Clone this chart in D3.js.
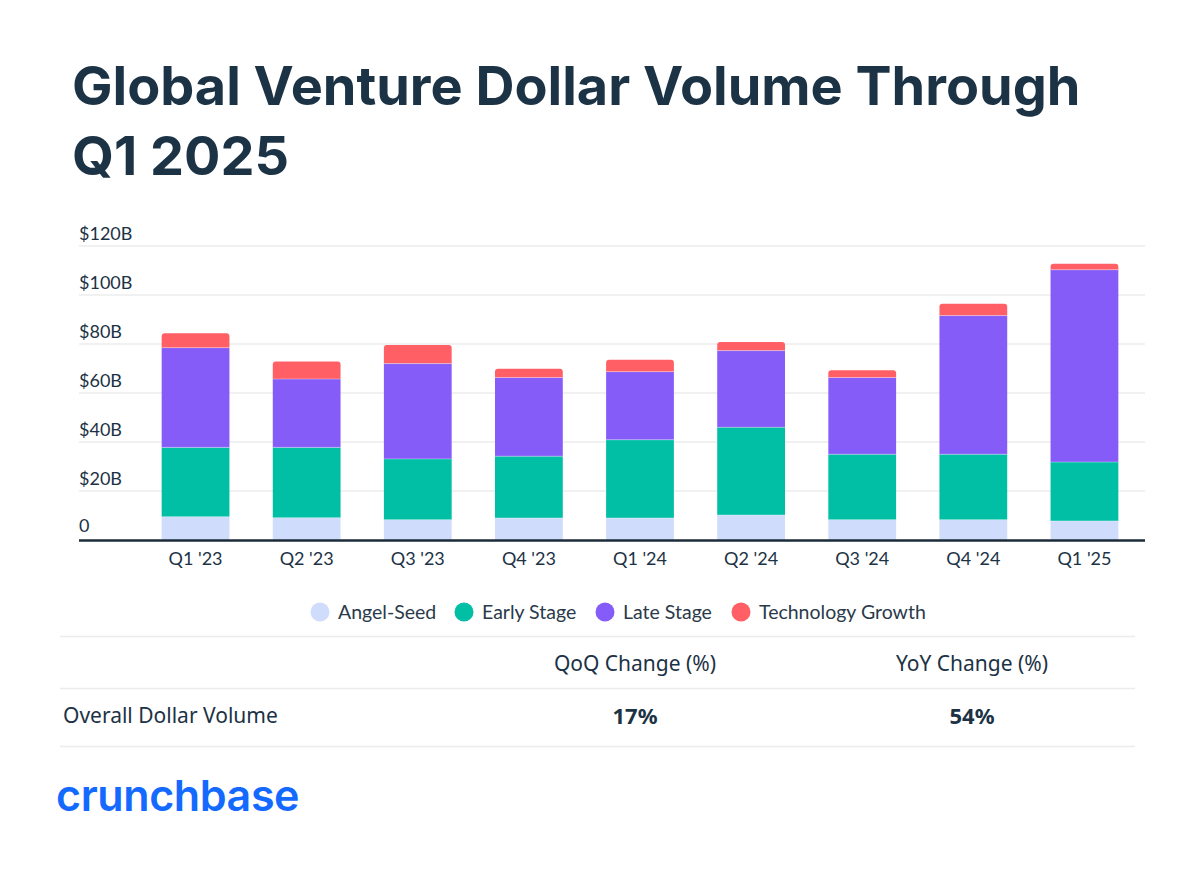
<!DOCTYPE html>
<html>
<head>
<meta charset="utf-8">
<script src="https://cdn.jsdelivr.net/npm/d3@7"></script>
<style>
  body { margin: 0; background: #fff; }
  svg { display: block; font-family: "Lato", "Noto Sans", sans-serif; }
</style>
</head>
<body>
<svg id="chart" width="1200" height="880"></svg>
<script>
const quarters = ["Q1 '23", "Q2 '23", "Q3 '23", "Q4 '23", "Q1 '24", "Q2 '24", "Q3 '24", "Q4 '24", "Q1 '25"];
const angelSeed = [9.5, 9.1, 8.3, 9.0, 9.0, 10.2, 8.3, 8.3, 7.8];
const earlyStage = [28.3, 28.7, 24.8, 25.2, 31.9, 35.8, 26.7, 26.7, 24.0];
const lateStage = [40.7, 27.9, 38.9, 32.1, 27.8, 31.3, 31.3, 56.6, 78.5];
const techGrowth = [5.9, 7.2, 7.6, 3.6, 4.9, 3.5, 3.0, 4.8, 2.5];
const seriesNames = ["Angel-Seed", "Early Stage", "Late Stage", "Technology Growth"];
const seriesColors = ["#cfdcfb", "#00bfa5", "#855cf8", "#ff5f65"];
const yTicks = [0, 20, 40, 60, 80, 100, 120];
const tableHeaders = ["QoQ Change (%)", "YoY Change (%)"];
const tableRow = { label: "Overall Dollar Volume", values: ["17%", "54%"] };

const svg = d3.select("#chart");
const ink = "#1c3245";

// title
const title = svg.append("text")
  .attr("x", 72)
  .attr("font-family", "Inter, 'Noto Sans', sans-serif")
  .attr("font-weight", 700)
  .attr("font-size", 54)
  .attr("fill", ink);
title.append("tspan").attr("x", 72).attr("y", 105).text("Global Venture Dollar Volume Through");
title.append("tspan").attr("x", 72).attr("y", 175).text("Q1 2025");

// scales
const x = d3.scaleBand().domain(quarters).range([140, 1140]).paddingInner(0.39).paddingOuter(0.195);
const y = d3.scaleLinear().domain([0, 120]).range([540, 246]);

const rows = quarters.map((q, i) => ({
  q,
  "Angel-Seed": angelSeed[i],
  "Early Stage": earlyStage[i],
  "Late Stage": lateStage[i],
  "Technology Growth": techGrowth[i],
}));
const stacked = d3.stack().keys(seriesNames)(rows);

// grid
const grid = svg.append("g");
grid.selectAll("line")
  .data(yTicks.filter((d) => d > 0))
  .enter()
  .append("line")
  .attr("x1", 79)
  .attr("x2", 1145)
  .attr("y1", (d) => y(d))
  .attr("y2", (d) => y(d))
  .attr("stroke", "#ececec")
  .attr("stroke-width", 1.5);

grid.selectAll("text")
  .data(yTicks)
  .enter()
  .append("text")
  .attr("x", 79)
  .attr("y", (d) => y(d) - (d === 0 ? 8 : 6))
  .attr("font-size", 18)
  .attr("fill", ink)
  .text((d) => (d === 0 ? "0" : `$${d}B`));

// bars
const layers = svg.append("g")
  .selectAll("g")
  .data(stacked)
  .enter()
  .append("g")
  .attr("fill", (d, i) => seriesColors[i]);

layers.selectAll("path")
  .data((d) => d.map((v) => ({ v, top: d.key === "Technology Growth" })))
  .enter()
  .append("path")
  .attr("d", (d) => {
    const x0 = x(d.v.data.q);
    const w = x.bandwidth();
    const y0 = y(d.v[0]);
    const y1 = y(d.v[1]);
    const r = d.top ? 3 : 0;
    return `M${x0},${y0}V${y1 + r}Q${x0},${y1} ${x0 + r},${y1}H${x0 + w - r}Q${x0 + w},${y1} ${x0 + w},${y1 + r}V${y0}Z`;
  });

// thin separators between segments
layers.filter((d, i) => i > 0)
  .selectAll("line")
  .data((d) => d)
  .enter()
  .append("line")
  .attr("x1", (d) => x(d.data.q))
  .attr("x2", (d) => x(d.data.q) + x.bandwidth())
  .attr("y1", (d) => y(d[0]))
  .attr("y2", (d) => y(d[0]))
  .attr("stroke", "#ffffff")
  .attr("stroke-opacity", 0.35)
  .attr("stroke-width", 1);

// x axis
svg.append("line")
  .attr("x1", 79)
  .attr("x2", 1145)
  .attr("y1", 540.5)
  .attr("y2", 540.5)
  .attr("stroke", "#1c2b3a")
  .attr("stroke-width", 2.5);

svg.append("g")
  .selectAll("text")
  .data(quarters)
  .enter()
  .append("text")
  .attr("x", (d) => x(d) + x.bandwidth() / 2)
  .attr("y", 565)
  .attr("text-anchor", "middle")
  .attr("font-size", 18)
  .attr("fill", ink)
  .text((d) => d);

// legend
const legendX = [320, 464, 605, 741];
const legend = svg.append("g")
  .selectAll("g")
  .data(seriesNames)
  .enter()
  .append("g")
  .attr("transform", (d, i) => `translate(${legendX[i]}, 612)`);
legend.append("circle").attr("r", 9.5).attr("fill", (d, i) => seriesColors[i]);
legend.append("text")
  .attr("x", 18)
  .attr("y", 6.5)
  .attr("font-size", 19.5)
  .attr("fill", "#2a3a4a")
  .text((d) => d);

// table
const tbl = svg.append("g").attr("font-family", "'Noto Sans', Lato, sans-serif");
[636.5, 688.5, 746.5].forEach((ly) => {
  tbl.append("line")
    .attr("x1", 60).attr("x2", 1135)
    .attr("y1", ly).attr("y2", ly)
    .attr("stroke", "#ececec").attr("stroke-width", 1.5);
});
const colX = [635, 972];
tbl.selectAll("text.head")
  .data(tableHeaders)
  .enter()
  .append("text")
  .attr("class", "head")
  .attr("x", (d, i) => colX[i])
  .attr("y", 671)
  .attr("text-anchor", "middle")
  .attr("font-size", 21)
  .attr("fill", ink)
  .text((d) => d);
tbl.append("text")
  .attr("x", 63).attr("y", 723)
  .attr("font-size", 21).attr("fill", ink)
  .text(tableRow.label);
tbl.selectAll("text.val")
  .data(tableRow.values)
  .enter()
  .append("text")
  .attr("class", "val")
  .attr("x", (d, i) => colX[i])
  .attr("y", 724)
  .attr("text-anchor", "middle")
  .attr("font-size", 22)
  .attr("font-weight", 700)
  .attr("fill", ink)
  .text((d) => d);

// logo
svg.append("text")
  .attr("x", 56)
  .attr("y", 811)
  .attr("font-family", "Inter, 'Noto Sans', sans-serif")
  .attr("font-size", 43)
  .attr("font-weight", 600)
  .attr("letter-spacing", -0.4)
  .attr("fill", "#146aff")
  .text("crunchbase");
</script>
</body>
</html>
